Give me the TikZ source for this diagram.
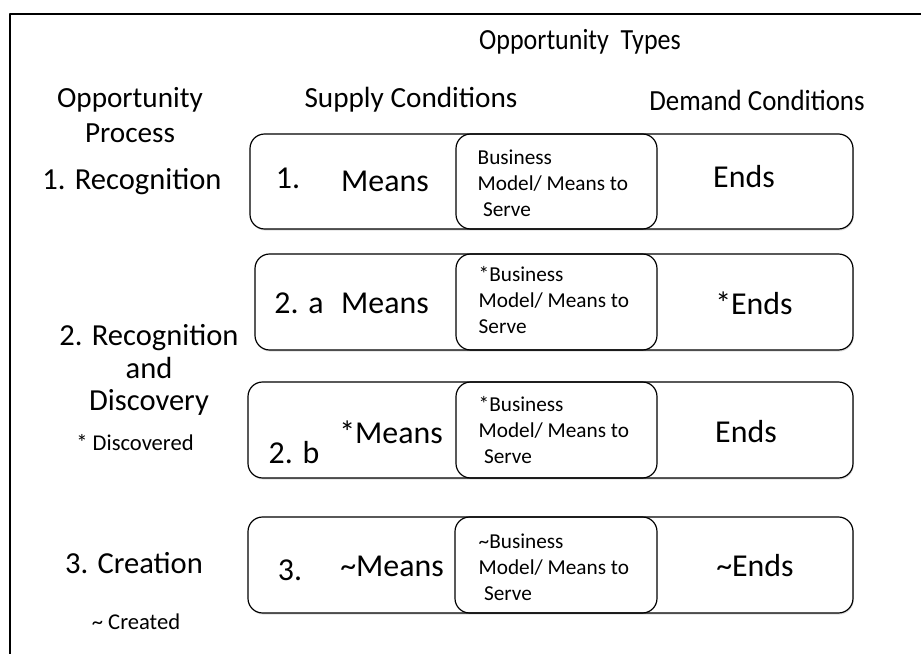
\documentclass[tikz,border=0pt]{standalone}
\usepackage{fontspec}
\setmainfont{Carlito}
\usetikzlibrary{shadows}
\begin{document}
\begin{tikzpicture}[scale=2.6458, line join=round, line cap=round,
	outerbox/.style={draw, line width=0.9pt, rounded corners=11pt, fill=white,
		drop shadow={shadow xshift=0.6pt, shadow yshift=-1.2pt, opacity=0.25}},
	bmbox/.style={draw, line width=0.9pt, rounded corners=11pt},
	head/.style={font=\fontsize{22}{27}\selectfont},
	big/.style={font=\fontsize{24}{29}\selectfont},
	side/.style={font=\fontsize{23}{24.5}\selectfont, align=center},
	note/.style={font=\fontsize{17}{20}\selectfont},
	bmtext/.style={font=\fontsize{16}{19.5}\selectfont, align=left, anchor=west}]
	\def\xmin{0} \def\xmax{9.21}
	\def\ymin{0} \def\ymax{6.54}
	\useasboundingbox (\xmin,\ymin) rectangle (\xmax,\ymax);
	\draw[line width=1.5pt, line cap=butt] (0.10,\ymin)--(0.10,6.40)--(\xmax,6.40);
	% Headings
	\node[head] (types) at (5.80,6.12) {\scalebox{0.89}[1]{Opportunity~~Types}};
	\node[head, align=center] (process) at (1.30,5.39) {Opportunity\\Process};
	\node[head] (supply) at (4.11,5.54) {Supply Conditions};
	\node[head] (demand) at (7.57,5.54) {\scalebox{0.92}[1]{Demand Conditions}};
	% Process column
	\node[side] (recog) at (1.32,4.72) {1. Recognition};
	\node[side] (recdisc) at (1.49,2.84) {2. Recognition\\and\\Discovery};
	\node[note] (discnote) at (1.35,2.11) {* Discovered};
	\node[side] (creat) at (1.34,0.91) {3. Creation};
	\node[note] (creanote) at (1.36,0.32) {\textasciitilde\ Created};
	% Boxes
	\draw[outerbox] (2.50,4.25) rectangle (8.53,5.20);
	\draw[bmbox] (4.56,4.25) rectangle (6.57,5.20);
	\draw[outerbox] (2.55,3.04) rectangle (8.53,4.00);
	\draw[bmbox] (4.56,3.04) rectangle (6.57,4.00);
	\draw[outerbox] (2.48,1.76) rectangle (8.53,2.72);
	\draw[bmbox] (4.56,1.76) rectangle (6.57,2.72);
	\draw[outerbox] (2.48,0.41) rectangle (8.53,1.37);
	\draw[bmbox] (4.55,0.41) rectangle (6.57,1.37);
	% Row 1
	\node[big] (num1) at (2.88,4.76) {1.};
	\node[big] (means1) at (3.85,4.73) {Means};
	\node[bmtext] (bm1) at (4.73,4.71) {Business\\Model/ Means to\\\hspace{4pt}Serve};
	\node[big] (ends1) at (7.44,4.77) {Ends};
	% Row 2a
	\node[big] (num2a) at (2.99,3.51) {2. a};
	\node[big] (means2a) at (3.85,3.51) {Means};
	\node[bmtext] (bm2a) at (4.74,3.54) {*Business\\Model/ Means to\\Serve};
	\node[big] (ends2a) at (7.54,3.51) {*Ends};
	% Row 2b
	\node[big] (num2b) at (2.94,2.01) {2. b};
	\node[big] (means2b) at (3.91,2.22) {*Means};
	\node[bmtext] (bm2b) at (4.74,2.24) {*Business\\Model/ Means to\\\hspace{4pt}Serve};
	\node[big] (ends2b) at (7.46,2.22) {Ends};
	% Row 3
	\node[big] (num3) at (2.90,0.84) {3.};
	\node[big] (means3) at (3.92,0.88) {\textasciitilde Means};
	\node[bmtext] (bm3) at (4.74,0.87) {\textasciitilde Business\\Model/ Means to\\\hspace{4pt}Serve};
	\node[big] (ends3) at (7.55,0.88) {\textasciitilde Ends};
\end{tikzpicture}
\end{document}
